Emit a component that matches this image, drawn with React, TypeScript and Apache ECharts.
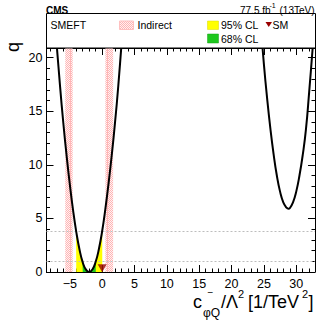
import React, { useEffect, useRef } from "react";
import * as echarts from "echarts";

// ---- data ----
const curveLowX = [-7.3, -7.0, -6.5, -6.0, -5.5, -5.0, -4.5, -4.0, -3.5, -3.0, -2.5, -2.0, -1.5, -1.0, -0.5, 0.0, 0.5, 1.0, 1.5, 2.0, 2.5, 3.0, 3.3];
const curveLowQ = [23.0, 21.0, 17.3, 13.9, 10.9, 8.2, 5.8, 3.75, 2.1, 0.9, 0.22, 0.0, 0.24, 0.95, 2.15, 3.8, 5.9, 8.3, 11.0, 14.0, 17.4, 21.3, 23.5];
const curveHighX = [24.5, 25.0, 25.5, 26.0, 26.5, 27.0, 27.5, 28.0, 28.5, 28.8, 29.0, 29.5, 30.0, 30.5, 31.0, 31.5, 32.0, 32.5, 33.0];
const curveHighQ = [23.0, 19.4, 16.2, 13.4, 11.0, 9.0, 7.5, 6.5, 6.0, 5.9, 5.95, 6.5, 7.5, 9.0, 10.9, 13.3, 16.8, 20.6, 24.5];
const cl95 = [-4.03, 0.02];
const cl68 = [-3.04, -0.98];
const clLevels = [1, 3.84];
const indirectBands = [[-5.7, -4.55], [0.5, 1.7]];
const indirectLines = [-4.95, 0.75];
const smPoint = [0, 0.35];
const xRange = [-8.6, 32.9];
const yRange = [0, 20.9];
const xMajorTicks = [-5, 0, 5, 10, 15, 20, 25, 30];
const xMinorTicks = [-8, -7, -6, -5, -4, -3, -2, -1, 0, 1, 2, 3, 4, 5, 6, 7, 8, 9, 10, 11, 12, 13, 14, 15, 16, 17, 18, 19, 20, 21, 22, 23, 24, 25, 26, 27, 28, 29, 30, 31, 32];
const yMajorTicks = [0, 5, 10, 15, 20];
const yMinorTicks = [0, 1, 2, 3, 4, 5, 6, 7, 8, 9, 10, 11, 12, 13, 14, 15, 16, 17, 18, 19, 20];

const FONT = "'Liberation Sans', Arial, Helvetica, sans-serif";

function interp(xs: number[], qs: number[], x: number) {
  for (let i = 0; i < xs.length - 1; i++) {
    if (x >= xs[i] && x <= xs[i + 1]) {
      const t = (x - xs[i]) / (xs[i + 1] - xs[i]);
      return qs[i] + t * (qs[i + 1] - qs[i]);
    }
  }
  return 0;
}

function segment(xs: number[], qs: number[], lo: number, hi: number) {
  const pts: number[][] = [[lo, interp(xs, qs, lo)]];
  xs.forEach((x, i) => {
    if (x > lo && x < hi) pts.push([x, qs[i]]);
  });
  pts.push([hi, interp(xs, qs, hi)]);
  return pts;
}

function makePattern() {
  const c = document.createElement("canvas");
  c.width = 2;
  c.height = 2;
  const ctx = c.getContext("2d")!;
  ctx.fillStyle = "#fff2f2";
  ctx.fillRect(0, 0, 2, 2);
  ctx.fillStyle = "#ffb4b4";
  ctx.fillRect(0, 0, 1, 1);
  ctx.fillRect(1, 1, 1, 1);
  return { image: c, repeat: "repeat", imageWidth: 2, imageHeight: 2 } as any;
}

function xAxisDef(position: "top" | "bottom", ticks: number[], len: number, labels: boolean, line: boolean) {
  return {
    type: "value",
    min: xRange[0],
    max: xRange[1],
    position,
    axisLine: { show: line, onZero: false, lineStyle: { color: "#000", width: 1 } },
    axisTick: { show: true, inside: true, length: len, customValues: ticks, lineStyle: { color: "#000", width: 1 } },
    axisLabel: {
      show: labels,
      customValues: ticks,
      fontSize: 12.5,
      fontFamily: FONT,
      color: "#000",
      margin: 5,
      formatter: (v: number) => (v < 0 ? "\u2212" + Math.abs(v) : String(v)),
    },
    splitLine: { show: false },
    minorTick: { show: false },
  };
}

function yAxisDef(position: "left" | "right", ticks: number[], len: number, labels: boolean, line: boolean) {
  return {
    type: "value",
    min: yRange[0],
    max: yRange[1],
    position,
    axisLine: { show: line, onZero: false, lineStyle: { color: "#000", width: 1 } },
    axisTick: { show: true, inside: true, length: len, customValues: ticks, lineStyle: { color: "#000", width: 1 } },
    axisLabel: {
      show: labels,
      customValues: ticks,
      fontSize: 12.5,
      fontFamily: FONT,
      color: "#000",
      margin: 4,
    },
    splitLine: { show: false },
    minorTick: { show: false },
  };
}

export default function App() {
  const ref = useRef<HTMLDivElement>(null);
  useEffect(() => {
    const el = ref.current!;
    const chart = echarts.init(el, null, { renderer: "svg" });
    const hatch = makePattern();
    const lowPts = curveLowX.map((x, i) => [x, curveLowQ[i]]);
    const highPts = curveHighX.map((x, i) => [x, curveHighQ[i]]);

    const txt = (text: string, x: number, y: number, size: number, extra: any = {}) => ({
      type: "text",
      x,
      y,
      silent: true,
      style: { text, fontSize: size, fontFamily: FONT, fill: "#000", align: "left", verticalAlign: "middle", ...extra },
      z: 100,
    });

    const option: any = {
      animation: false,
      grid: { left: 46.5, right: 17, top: 48, bottom: 49, containLabel: false },
      xAxis: [
        xAxisDef("bottom", xMajorTicks, 7, true, true),
        xAxisDef("bottom", xMinorTicks, 3.5, false, false),
        xAxisDef("top", xMajorTicks, 7, false, true),
        xAxisDef("top", xMinorTicks, 3.5, false, false),
      ],
      yAxis: [
        yAxisDef("left", yMajorTicks, 7, true, true),
        yAxisDef("left", yMinorTicks, 3.5, false, false),
        yAxisDef("right", yMajorTicks, 7, false, true),
        yAxisDef("right", yMinorTicks, 3.5, false, false),
      ],
      series: [
        {
          name: "indirect",
          type: "line",
          data: [],
          z: 1,
          silent: true,
          markArea: {
            silent: true,
            itemStyle: { color: hatch, borderWidth: 0 },
            data: indirectBands.map((b) => [{ xAxis: b[0] }, { xAxis: b[1] }]),
          },
          markLine: {
            silent: true,
            symbol: ["none", "none"],
            label: { show: false },
            lineStyle: { color: "#ffb8b8", width: 1, type: "solid" },
            data: indirectLines.map((x) => ({ xAxis: x })),
          },
        },
        {
          name: "levels",
          type: "line",
          data: [],
          z: 2,
          silent: true,
          markLine: {
            silent: true,
            symbol: ["none", "none"],
            label: { show: false },
            lineStyle: { color: "#bdbdbd", width: 1, type: [2, 2] },
            data: clLevels.map((y) => ({ yAxis: y })),
          },
        },
        {
          name: "95% CL",
          type: "line",
          data: segment(curveLowX, curveLowQ, cl95[0], cl95[1]),
          smooth: true,
          symbol: "none",
          lineStyle: { width: 0 },
          areaStyle: { color: "#ffff00", opacity: 1 },
          z: 3,
        },
        {
          name: "68% CL",
          type: "line",
          data: segment(curveLowX, curveLowQ, cl68[0], cl68[1]),
          smooth: true,
          symbol: "none",
          lineStyle: { width: 0 },
          areaStyle: { color: "#1ec81e", opacity: 1 },
          z: 4,
        },
        {
          name: "q low",
          type: "line",
          data: lowPts,
          smooth: true,
          symbol: "none",
          clip: true,
          lineStyle: { color: "#000", width: 2 },
          z: 5,
        },
        {
          name: "q high",
          type: "line",
          data: highPts,
          smooth: true,
          symbol: "none",
          clip: true,
          lineStyle: { color: "#000", width: 2 },
          z: 5,
        },
        {
          name: "SM",
          type: "scatter",
          data: [smPoint],
          symbol: "triangle",
          symbolRotate: 180,
          symbolSize: [9, 8],
          itemStyle: { color: "#990000" },
          z: 6,
        },
      ],
      graphic: [
        // header
        txt("CMS", 46, 10, 10, { fontWeight: "bold" }),
        txt("77.5 fb", 240, 10, 10),
        txt("-1", 269.5, 5.5, 7),
        txt("(13TeV)", 279.5, 10, 10),
        // legend box
        {
          type: "rect",
          shape: { x: 46.5, y: 13.5, width: 269, height: 34.5 },
          style: { fill: "#fff", stroke: "#000", lineWidth: 1 },
          z: 90,
          silent: true,
        },
        txt("SMEFT", 50.5, 25, 10.5),
        {
          type: "rect",
          shape: { x: 119.5, y: 21, width: 14, height: 8.5 },
          style: { fill: hatch, stroke: "#ffc0c0", lineWidth: 1 },
          z: 95,
          silent: true,
        },
        txt("Indirect", 137.5, 25, 10.5),
        {
          type: "rect",
          shape: { x: 207.5, y: 21, width: 11, height: 8.5 },
          style: { fill: "#ffff00", stroke: "#d8d800", lineWidth: 0.5 },
          z: 95,
          silent: true,
        },
        txt("95% CL", 221, 25, 10.5),
        {
          type: "polygon",
          shape: { points: [[265.5, 22], [272, 22], [268.75, 27]] },
          style: { fill: "#990000" },
          z: 95,
          silent: true,
        },
        txt("SM", 272.5, 25, 10.5),
        {
          type: "rect",
          shape: { x: 207.5, y: 34, width: 11, height: 9 },
          style: { fill: "#1ec81e", stroke: "#18a018", lineWidth: 0.5 },
          z: 95,
          silent: true,
        },
        txt("68% CL", 221, 38.5, 10.5),
        // y title
        {
          type: "text",
          x: 12.5,
          y: 47,
          rotation: Math.PI / 2,
          silent: true,
          style: { text: "q", fontSize: 18, fontFamily: FONT, fill: "#000", align: "center", verticalAlign: "middle" },
          z: 100,
        },
        // x title
        txt("c", 193, 302, 18),
        txt("\u2212", 207.5, 292, 10),
        txt("\u03c6Q", 203, 312.5, 12),
        txt("/\u039b", 221, 302, 18),
        txt("2", 238, 294, 11),
        txt("[1/TeV", 248, 302, 18),
        txt("2", 302, 294, 11),
        txt("]", 308.5, 302, 18),
      ],
    };
    chart.setOption(option);
    return () => chart.dispose();
  }, []);
  return <div ref={ref} style={{ position: "absolute", left: 0, top: 0, width: 332, height: 321 }} />;
}
